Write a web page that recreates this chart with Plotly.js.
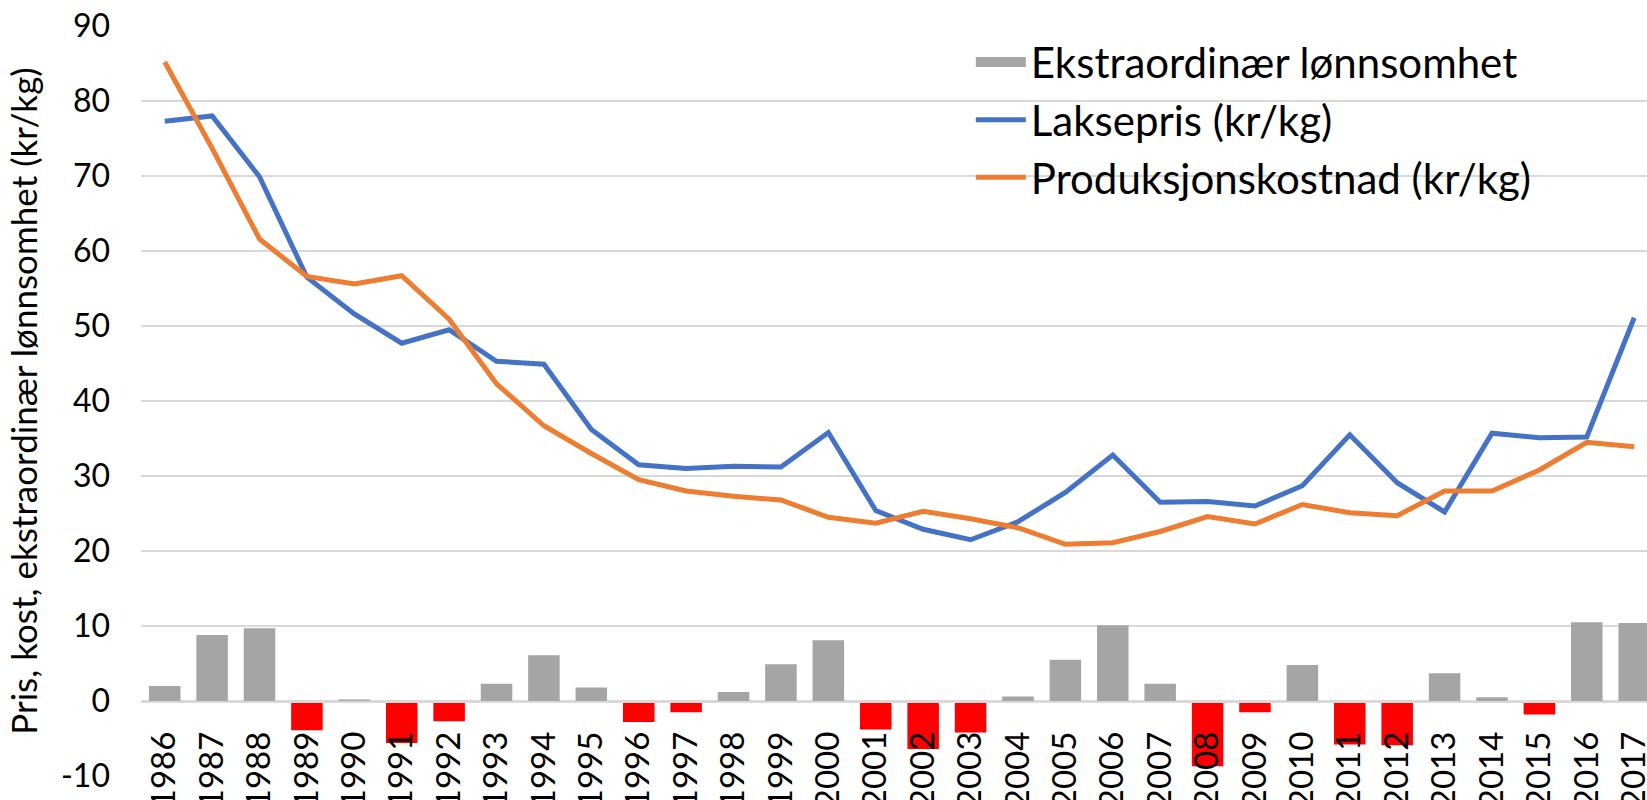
<!DOCTYPE html>
<html><head><meta charset="utf-8">
<script src="https://cdn.plot.ly/plotly-3.0.1.min.js"></script>
<style>html,body{margin:0;padding:0;background:#fff;overflow:hidden;} #chart{width:1647px;height:800px;}</style>
</head><body><div id="chart"></div>
<script>
const years = ['1986','1987','1988','1989','1990','1991','1992','1993','1994','1995','1996','1997','1998','1999','2000','2001','2002','2003','2004','2005','2006','2007','2008','2009','2010','2011','2012','2013','2014','2015','2016','2017'];
const laksepris = [77.3, 78.0, 69.9, 56.5, 51.6, 47.7, 49.5, 45.3, 44.9, 36.2, 31.5, 31.0, 31.3, 31.2, 35.8, 25.4, 22.9, 21.5, 23.9, 27.8, 32.8, 26.5, 26.6, 26.0, 28.7, 35.5, 29.1, 25.2, 35.7, 35.1, 35.2, 51.1];
const produksjonskostnad = [85.2, 73.7, 61.6, 56.6, 55.6, 56.7, 50.9, 42.3, 36.7, 33.0, 29.5, 28.0, 27.3, 26.8, 24.5, 23.7, 25.3, 24.3, 23.1, 20.9, 21.1, 22.6, 24.6, 23.6, 26.2, 25.1, 24.7, 28.0, 28.0, 30.8, 34.5, 33.9];
const ekstraordinaer = [2.0, 8.8, 9.7, -3.9, 0.2, -5.6, -2.7, 2.3, 6.1, 1.8, -2.8, -1.5, 1.2, 4.9, 8.1, -3.8, -6.4, -4.2, 0.6, 5.5, 10.1, 2.3, -8.7, -1.5, 4.8, -5.8, -5.9, 3.7, 0.5, -1.8, 10.5, 10.4];
const yTickVals = [-10, 0, 10, 20, 30, 40, 50, 60, 70, 80, 90];
const yTickText = ['-10', '0', '10', '20', '30', '40', '50', '60', '70', '80', '90'];
const seriesNames = ['Ekstraordinær lønnsomhet', 'Laksepris (kr/kg)', 'Produksjonskostnad (kr/kg)'];
const yTitle = 'Pris, kost, ekstraordinær lønnsomhet (kr/kg)';

const GRAY = '#A5A5A5', RED = '#FF0000', BLUE = '#4472C4', ORANGE = '#ED7D31', GRID = '#D9D9D9';
const FONT = 'Lato, "Open Sans", sans-serif';

const traces = [
  // bars (legend entry provided by the swatch trace below, which draws a wide box like the reference)
  {type:'bar', name:seriesNames[0], x:years, y:ekstraordinaer, legendgroup:'ekstra', showlegend:false,
   marker:{color: ekstraordinaer.map(v => v < 0 ? RED : GRAY), line:{width:0}}},
  {type:'scatter', mode:'lines', name:seriesNames[0], x:[null], y:[null], legendgroup:'ekstra',
   showlegend:true, line:{color:GRAY, width:27}},
  {type:'scatter', mode:'lines', name:seriesNames[1], x:years, y:laksepris,
   line:{color:BLUE, width:5}},
  {type:'scatter', mode:'lines', name:seriesNames[2], x:years, y:produksjonskostnad,
   line:{color:ORANGE, width:5}}
];

const layout = {
  width:1647, height:800,
  margin:{l:141, r:0, t:26, b:24, autoexpand:false},
  paper_bgcolor:'#fff', plot_bgcolor:'#fff',
  font:{family:FONT, color:'#000', size:32},
  bargap:0.335,
  showlegend:true,
  legend:{x:0.551, xanchor:'left', y:0.997, yanchor:'top', font:{size:42, color:'#000'},
          bgcolor:'rgba(0,0,0,0)', itemwidth:50, tracegroupgap:0, traceorder:'normal'},
  xaxis:{type:'category', range:[-0.5, 31.27], anchor:'free', position:0.1,
         tickangle:-90, tickfont:{size:33, color:'#000'}, showgrid:false,
         showline:true, linecolor:GRID, linewidth:1.5, ticks:'', ticklabelstandoff:16,
         automargin:false, fixedrange:true},
  yaxis:{range:[-10, 90], tickmode:'array', tickvals:yTickVals, ticktext:yTickText,
         showgrid:true, gridcolor:GRID, gridwidth:1.5,
         zeroline:true, zerolinecolor:GRID, zerolinewidth:1.5, showline:false, ticks:'',
         tickfont:{size:32, color:'#000'}, ticklabelstandoff:30, automargin:false,
         title:{text:yTitle, font:{size:35, color:'#000'}, standoff:12}, fixedrange:true}
};

Plotly.newPlot('chart', traces, layout, {staticPlot:true, displayModeBar:false});
</script>
</body></html>
